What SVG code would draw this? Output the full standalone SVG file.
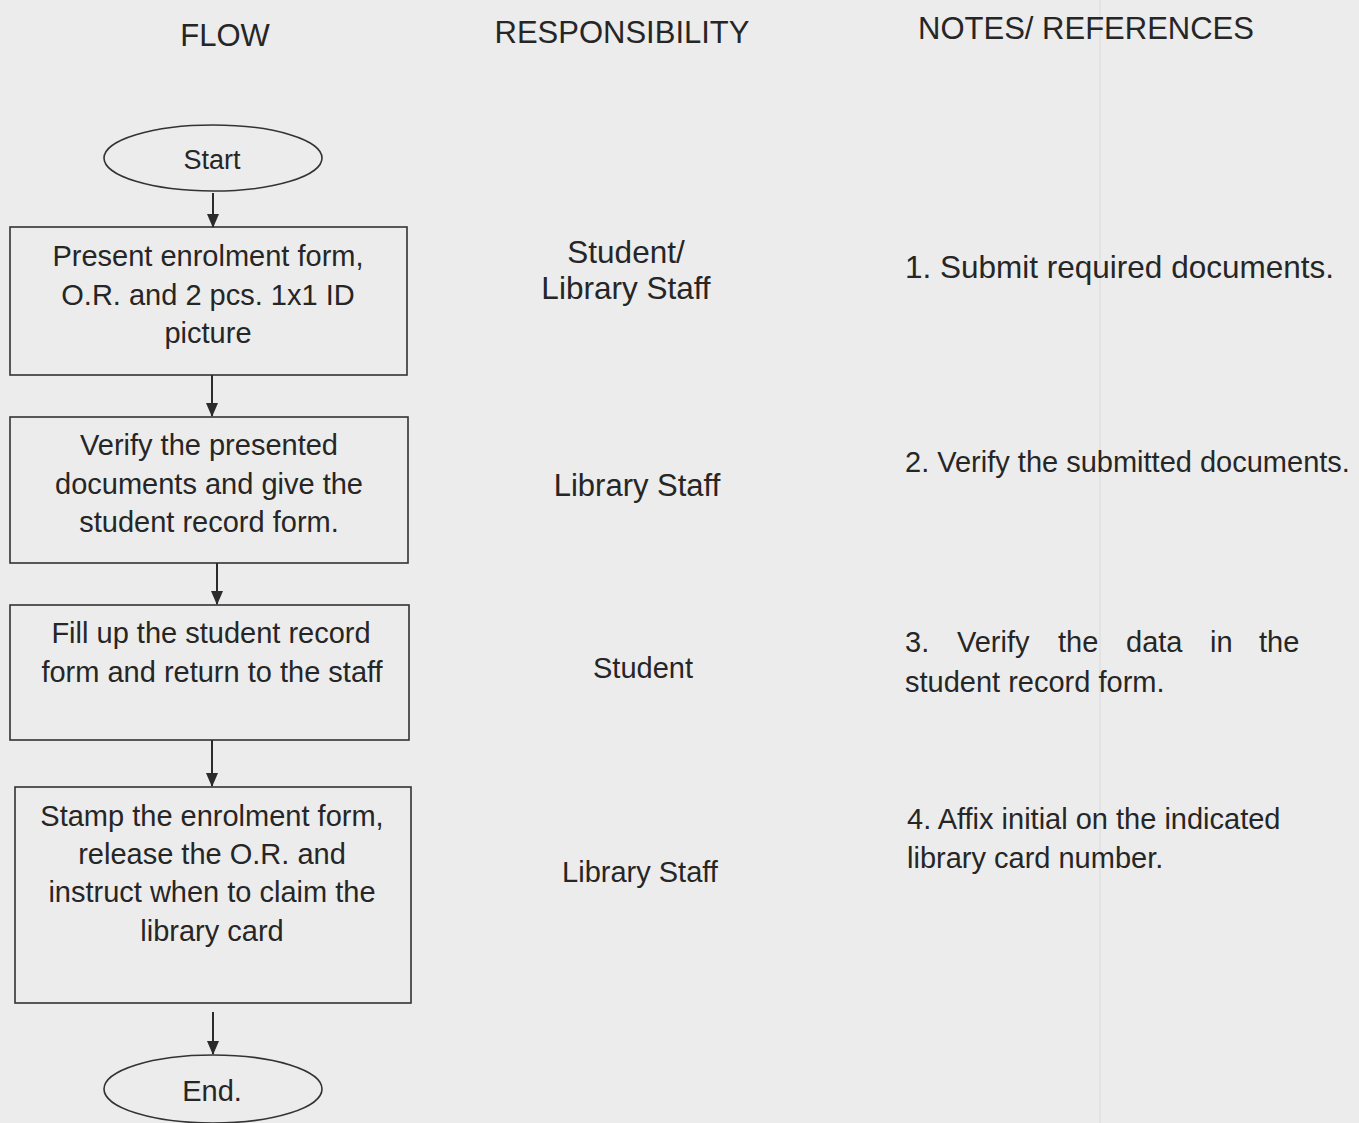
<svg xmlns="http://www.w3.org/2000/svg" width="1359" height="1123" viewBox="0 0 1359 1123">
  <defs>
    <marker id="arrow" markerWidth="14" markerHeight="14" refX="13" refY="7" orient="auto" markerUnits="userSpaceOnUse">
      <path d="M0,1 L14,7 L0,13 Z" fill="#2b2b2b"/>
    </marker>
  </defs>
  <style>
    text { font-family: "Liberation Sans", Arial, sans-serif; fill: #262626; }
    .hdr { font-size: 31px; text-anchor: middle; }
    .box { fill: none; stroke: #333; stroke-width: 1.6; }
    .term { fill: none; stroke: #333; stroke-width: 1.6; }
    .lbl { font-size: 29px; text-anchor: middle; }
    .resp { font-size: 29px; text-anchor: middle; }
    .note { font-size: 29px; }
    .conn line { stroke: #2b2b2b; stroke-width: 2; marker-end: url(#arrow); }
  </style>

  <!-- paper background -->
  <rect x="0" y="0" width="1359" height="1123" fill="#ececec"/>
  <line x1="1100" y1="0" x2="1100" y2="1123" stroke="#e3e3e3" stroke-width="2"/>

  <!-- column headings -->
  <g id="headings">
    <text class="hdr" x="225" y="46">FLOW</text>
    <text class="hdr" x="622" y="43">RESPONSIBILITY</text>
    <text class="hdr" x="1086" y="39">NOTES/ REFERENCES</text>
  </g>

  <!-- flow nodes -->
  <g id="start">
    <ellipse class="term" cx="213" cy="158" rx="109" ry="33"/>
    <text class="lbl" x="212" y="169" style="font-size:27px">Start</text>
  </g>

  <g id="step1">
    <rect class="box" x="10" y="227" width="397" height="148"/>
    <text class="lbl" x="208" y="266">Present enrolment form,</text>
    <text class="lbl" x="208" y="305">O.R. and 2 pcs. 1x1 ID</text>
    <text class="lbl" x="208" y="343">picture</text>
  </g>

  <g id="step2">
    <rect class="box" x="10" y="417" width="398" height="146"/>
    <text class="lbl" x="209" y="455">Verify the presented</text>
    <text class="lbl" x="209" y="494">documents and give the</text>
    <text class="lbl" x="209" y="532">student record form.</text>
  </g>

  <g id="step3">
    <rect class="box" x="10" y="605" width="399" height="135"/>
    <text class="lbl" x="211" y="643">Fill up the student record</text>
    <text class="lbl" x="212" y="682">form and return to the staff</text>
  </g>

  <g id="step4">
    <rect class="box" x="15" y="787" width="396" height="216"/>
    <text class="lbl" x="212" y="826">Stamp the enrolment form,</text>
    <text class="lbl" x="212" y="864">release the O.R. and</text>
    <text class="lbl" x="212" y="902">instruct when to claim the</text>
    <text class="lbl" x="212" y="941">library card</text>
  </g>

  <g id="end">
    <ellipse class="term" cx="213" cy="1089" rx="109" ry="34"/>
    <text class="lbl" x="212" y="1101">End.</text>
  </g>

  <!-- connectors -->
  <g id="connectors" class="conn">
    <line x1="213" y1="193" x2="213" y2="227"/>
    <line x1="212" y1="375" x2="212" y2="416"/>
    <line x1="217" y1="563" x2="217" y2="604"/>
    <line x1="212" y1="740" x2="212" y2="786"/>
    <line x1="213" y1="1012" x2="213" y2="1054"/>
  </g>

  <!-- responsibility column -->
  <g id="responsibility">
    <text class="resp" x="626" y="263" style="font-size:31.5px">Student/</text>
    <text class="resp" x="626" y="299" style="font-size:31.5px">Library Staff</text>
    <text class="resp" x="637" y="496" style="font-size:31px">Library Staff</text>
    <text class="resp" x="643" y="678">Student</text>
    <text class="resp" x="640" y="882">Library Staff</text>
  </g>

  <!-- notes column -->
  <g id="notes">
    <text class="note" x="905" y="278" style="font-size:31.5px">1. Submit required documents.</text>
    <text class="note" x="905" y="472">2. Verify the submitted documents.</text>
    <!-- justified line: words placed one by one -->
    <text class="note" y="652"><tspan x="905">3.</tspan><tspan x="957">Verify</tspan><tspan x="1058">the</tspan><tspan x="1126">data</tspan><tspan x="1210">in</tspan><tspan x="1259">the</tspan></text>
    <text class="note" x="905" y="692">student record form.</text>
    <text class="note" x="907" y="829">4. Affix initial on the indicated</text>
    <text class="note" x="907" y="868">library card number.</text>
  </g>
</svg>
